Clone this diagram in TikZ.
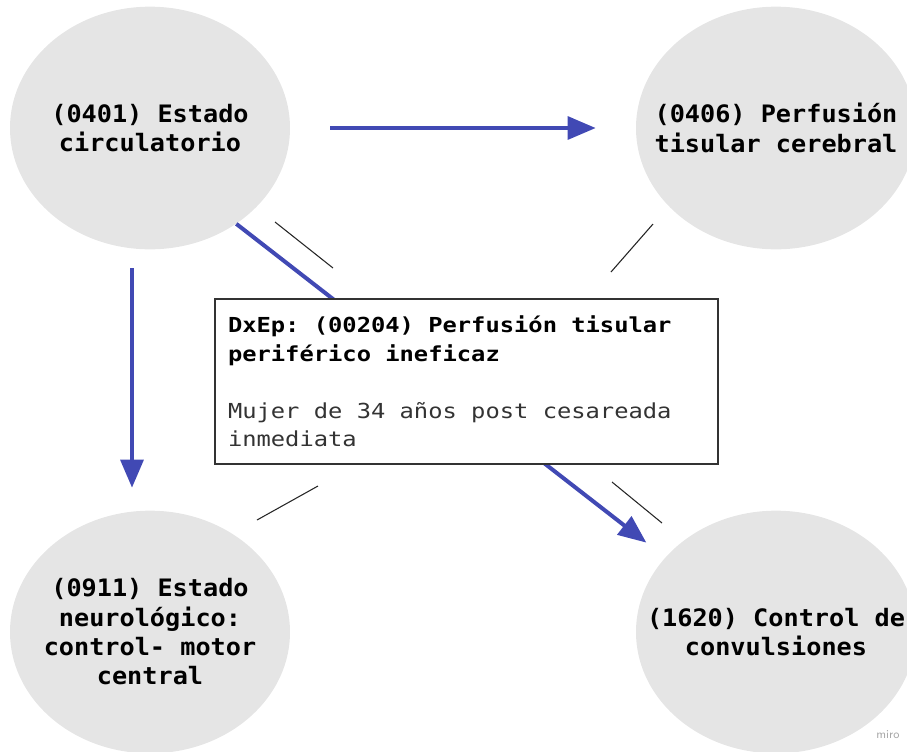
\documentclass[tikz,border=0pt]{standalone}
\usepackage{fontspec}
\usepackage{xcolor}
\usetikzlibrary{shapes.geometric,arrows.meta}
\setmonofont{DejaVu Sans Mono}
\newfontfamily\ovalfont[FakeStretch=1.05]{DejaVu Sans Mono}
\newfontfamily\dxfont[FakeStretch=1.15]{DejaVu Sans Mono}
\definecolor{ovalgray}{RGB}{229,229,229}
\definecolor{arrowblue}{RGB}{65,73,180}
\frenchspacing

\begin{document}
\begin{tikzpicture}[x=0.75pt,y=-0.75pt,
	oval/.style={ellipse, fill=ovalgray, minimum width=210pt, minimum height=182pt, inner sep=0pt},
	ovaltext/.style={align=center, inner sep=0pt, font=\ovalfont\bfseries\fontsize{18}{22}\selectfont},
	bluearrow/.style={arrowblue, line width=3pt, -{Triangle[length=21pt,width=17pt]}},
	remnant/.style={black!85, line width=0.8pt},
	dxbox/.style={draw=black!80, line width=1.5pt, fill=white, anchor=north west, align=left,
		minimum width=377pt, minimum height=124pt, text width=358pt, inner xsep=9.75pt,
		font=\dxfont\fontsize{15.5}{21.4}\selectfont}]
\useasboundingbox (0,0) rectangle (907,751);
\foreach \n/\x/\y/\t in {circ/150/128/{(0401) Estado\\circulatorio},
		cerebral/776/128/{(0406) Perfusión\\tisular cerebral},
		neuro/150/632/{(0911) Estado\\neurológico:\\control- motor\\central},
		convul/776/632/{(1620) Control de\\convulsiones}}
	\node[oval] (\n) at (\x,\y) {} node[ovaltext] (\n-t) at (\n) {\t};
\draw[bluearrow, shorten <=30pt, shorten >=30pt] (circ) -- (cerebral);
\draw[bluearrow, shorten <=14pt, shorten >=17pt] ([xshift=-13.5pt]circ.south) -- ([xshift=-13.5pt]neuro.north);
\draw[bluearrow, shorten >=18pt] (circ.-48) -- (convul.146);
\foreach \xa/\ya/\xb/\yb in {275/222/333/268, 653/224/611/272, 318/486/257/520, 612/482/662/523}
	\draw[remnant] (\xa,\ya) -- (\xb,\yb);
\node[dxbox] (dx) at (214,298) {\spaceskip=0pt\xspaceskip=0pt\frenchspacing
	\textbf{DxEp: (00204) Perfusión tisular}\\\textbf{periférico ineficaz}\\[21.4pt]
	\textcolor{black!80}{Mujer de 34 años post cesareada}\\\textcolor{black!80}{inmediata}};
\node[text=black!35, font=\sffamily\fontsize{9}{9}\selectfont] (miro) at (888,735) {miro};
\end{tikzpicture}
\end{document}
